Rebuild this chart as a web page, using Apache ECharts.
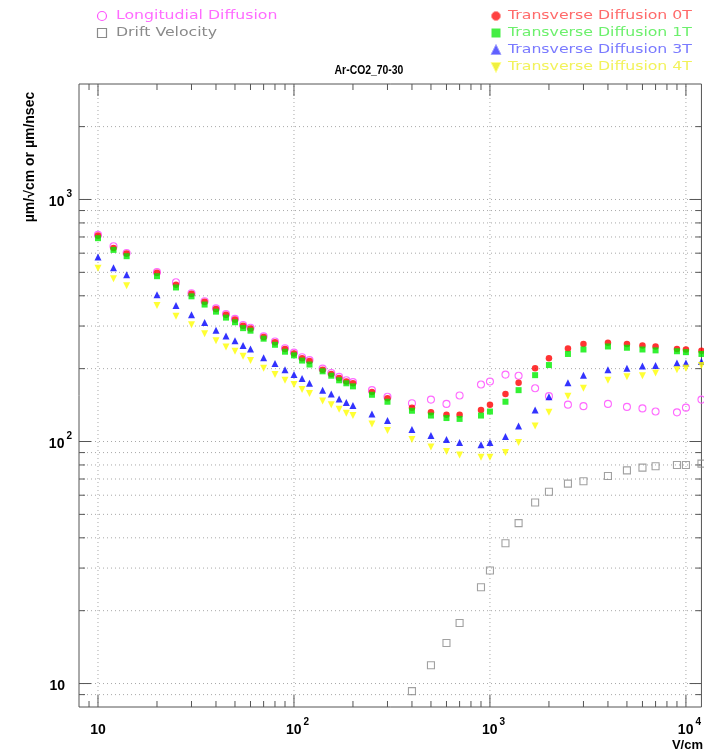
<!DOCTYPE html>
<html>
<head>
<meta charset="utf-8">
<script src="https://cdn.jsdelivr.net/npm/echarts@6/dist/echarts.min.js"></script>
<style>
  html, body { margin: 0; padding: 0; background: #ffffff; }
  #chart { width: 704px; height: 754px; }
</style>
</head>
<body>
<div id="chart"></div>
<script>
// Electric field values (V/cm) shared by the diffusion series
const fieldE = [10, 12, 14, 20, 25, 30, 35, 40, 45, 50, 55, 60, 70, 80, 90, 100, 110, 120, 140, 155, 170, 185, 200,
  250, 300, 400, 500, 600, 700, 900, 1000, 1200, 1400, 1700, 2000, 2500, 3000, 4000, 5000, 6000, 7000, 9000, 10000, 12000];

// Longitudinal diffusion (um/sqrt(cm))
const longDiff = [714, 641, 601, 501, 455, 410, 380, 355, 336, 321, 303, 295, 272, 259, 243, 233, 223, 217, 200, 192, 185, 179, 176,
  163, 153, 144, 149, 143, 155, 172, 177, 189, 187, 166, 154, 142, 140, 143, 139, 137, 133, 132, 138, 149];

// Transverse diffusion at 0, 1, 3 and 4 tesla (um/sqrt(cm))
const trans0T = [710, 631, 598, 498, 444, 408, 378, 353, 334, 319, 301, 293, 270, 257, 241, 231, 221, 215, 198, 190, 183, 177, 174,
  160, 151, 138, 132, 129, 129, 135, 142, 157, 175, 201, 221, 242, 253, 256, 253, 249, 247, 241, 240, 237];
const trans1T = [692, 619, 583, 482, 433, 398, 368, 344, 325, 311, 294, 287, 266, 251, 235, 227, 216, 208, 195, 187, 179, 174, 169,
  156, 146, 134, 128, 125, 124, 128, 133, 146, 163, 188, 207, 230, 240, 247, 244, 240, 238, 236, 234, 230];
const trans3T = [578, 522, 489, 404, 365, 334, 310, 288, 273, 261, 249, 241, 222, 210, 198, 189, 182, 174, 163, 157, 150, 145, 141,
  130, 122, 112, 106, 102, 99, 97, 99, 105, 116, 135, 153, 175, 188, 198, 201, 205, 206, 211, 211, 214];
const trans4T = [520, 470, 440, 365, 329, 304, 279, 261, 246, 236, 225, 216, 201, 189, 179, 172, 164, 158, 147, 142, 136, 131, 128,
  118, 111, 102, 95, 91, 88, 86, 86, 90, 99, 116, 132, 154, 166, 179, 185, 187, 192, 198, 201, 206];

// Drift velocity (um/nsec)
const driftE = [400, 500, 600, 700, 900, 1000, 1200, 1400, 1700, 2000, 2500, 3000, 4000, 5000, 6000, 7000, 9000, 10000, 12000];
const driftVel = [9.3, 11.9, 14.7, 17.8, 25, 29.3, 38, 46, 56, 62, 67, 68.5, 72, 76, 78, 79, 80, 80, 81];

// Axis ranges
const X_MIN = 8, X_MAX = 12000;
const Y_MIN = 8, Y_MAX = 3000;

// Grid lines and tick positions
const xGridValues = [10, 100, 1000, 10000];
const xMinorTicks = [9, 20, 30, 40, 50, 60, 70, 80, 90, 200, 300, 400, 500, 600, 700, 800, 900,
  2000, 3000, 4000, 5000, 6000, 7000, 8000, 9000];
const yMajorTicks = [10, 100, 1000];
const yMinorTicks = [9, 20, 30, 40, 50, 60, 70, 80, 90, 200, 300, 400, 500, 600, 700, 800, 900, 2000];
const yGridValues = yMajorTicks.concat(yMinorTicks);

// Decade tick labels: base "10" with exponent
const decadeExponents = { 10: '', 100: '2', 1000: '3', 10000: '4' };

const LABEL_FONT = '"Liberation Sans", Arial, sans-serif';
const LEGEND_FONT = '"DejaVu Sans", sans-serif';

const chart = echarts.init(document.getElementById('chart'), null, { renderer: 'canvas' });

function pairs(xs, ys) { return xs.map((x, i) => [x, ys[i]]); }

function decadeKey(v) {
  const l = Math.log10(v);
  const e = Math.round(l);
  if (Math.abs(l - e) > 1e-6) return null;
  return Math.pow(10, e);
}

const richLabel = {
  b: { fontFamily: LABEL_FONT, fontWeight: 'bold', fontSize: 14, color: '#000', lineHeight: 20, verticalAlign: 'bottom' },
  s: { fontFamily: LABEL_FONT, fontWeight: 'bold', fontSize: 10, color: '#000', lineHeight: 20, verticalAlign: 'top', padding: [0, 0, 0, 2] },
  p: { width: 7, lineHeight: 20 }
};

// vertical grid lines
function xGridItem(params, api) {
  const v = api.value(0);
  const b = api.coord([v, Y_MIN]);
  const t = api.coord([v, Y_MAX]);
  return { type: 'line', shape: { x1: b[0], y1: b[1], x2: t[0], y2: t[1] },
    style: { stroke: '#a8a8a8', lineWidth: 1, lineDash: [1, 3] } };
}
// horizontal grid lines
function yGridItem(params, api) {
  const v = api.value(1);
  const l = api.coord([X_MIN, v]);
  const r = api.coord([X_MAX, v]);
  return { type: 'line', shape: { x1: l[0], y1: l[1], x2: r[0], y2: r[1] },
    style: { stroke: '#a8a8a8', lineWidth: 1, lineDash: [1, 3] } };
}
// inward ticks on bottom and top edges
function xTickItem(params, api) {
  const v = api.value(0);
  const len = api.value(2);
  const b = api.coord([v, Y_MIN]);
  const t = api.coord([v, Y_MAX]);
  const st = { stroke: '#555', lineWidth: 1 };
  return { type: 'group', children: [
    { type: 'line', shape: { x1: b[0], y1: b[1], x2: b[0], y2: b[1] - len }, style: st },
    { type: 'line', shape: { x1: t[0], y1: t[1], x2: t[0], y2: t[1] + len }, style: st }
  ] };
}
// inward ticks on left and right edges
function yTickItem(params, api) {
  const v = api.value(1);
  const len = api.value(2);
  const l = api.coord([X_MIN, v]);
  const r = api.coord([X_MAX, v]);
  const st = { stroke: '#555', lineWidth: 1 };
  return { type: 'group', children: [
    { type: 'line', shape: { x1: l[0], y1: l[1], x2: l[0] + len, y2: l[1] }, style: st },
    { type: 'line', shape: { x1: r[0], y1: r[1], x2: r[0] - len, y2: r[1] }, style: st }
  ] };
}

const xTickData = xGridValues.map(v => [v, Y_MIN, 12]).concat(xMinorTicks.map(v => [v, Y_MIN, 6]));
const yTickData = yMajorTicks.map(v => [X_MIN, v, 12]).concat(yMinorTicks.map(v => [X_MIN, v, 6]));

// Legend built from graphic elements (wide legend lettering)
const legendLeft = [
  { name: 'Longitudial Diffusion', text: '#ff6bff', marker: 'emptyCircle', stroke: '#ff55ff', row: 0 },
  { name: 'Drift Velocity', text: '#8a8a8a', marker: 'emptyRect', stroke: '#8a8a8a', row: 1 }
];
const legendRight = [
  { name: 'Transverse Diffusion 0T', text: '#ff6a6a', marker: 'circle', fill: '#ff4040', row: 0 },
  { name: 'Transverse Diffusion 1T', text: '#6cf06c', marker: 'rect', fill: '#44ee44', row: 1 },
  { name: 'Transverse Diffusion 3T', text: '#7a7aff', marker: 'triangle', fill: '#6060ff', row: 2 },
  { name: 'Transverse Diffusion 4T', text: '#f2f25a', marker: 'triangleDown', fill: '#f0f040', row: 3 }
];

function legendMarker(item, cx, cy) {
  const r = 4.5;
  if (item.marker === 'emptyCircle') return { type: 'circle', shape: { cx, cy, r }, style: { fill: 'none', stroke: item.stroke, lineWidth: 1.2 } };
  if (item.marker === 'emptyRect') return { type: 'rect', shape: { x: cx - r, y: cy - r, width: 2 * r, height: 2 * r }, style: { fill: 'none', stroke: item.stroke, lineWidth: 1.2 } };
  if (item.marker === 'circle') return { type: 'circle', shape: { cx, cy, r }, style: { fill: item.fill, stroke: '#ff9a9a', lineWidth: 1 } };
  if (item.marker === 'rect') return { type: 'rect', shape: { x: cx - r, y: cy - r, width: 2 * r, height: 2 * r }, style: { fill: item.fill } };
  if (item.marker === 'triangle') return { type: 'polygon', shape: { points: [[cx, cy - r - 1], [cx + r + 0.5, cy + r], [cx - r - 0.5, cy + r]] }, style: { fill: item.fill, stroke: '#a0a0ff', lineWidth: 1 } };
  return { type: 'polygon', shape: { points: [[cx, cy + r + 1], [cx + r + 0.5, cy - r], [cx - r - 0.5, cy - r]] }, style: { fill: item.fill, stroke: '#ffff90', lineWidth: 1 } };
}

function legendGraphics(items, markerX, textX, topY) {
  const out = [];
  items.forEach(item => {
    const cy = topY + item.row * 17;
    out.push(legendMarker(item, markerX, cy));
    out.push({ type: 'text', x: textX, y: cy, scaleX: 1.21, originX: 0,
      style: { text: item.name, fill: item.text, font: '13px ' + LEGEND_FONT, textVerticalAlign: 'middle', textAlign: 'left' } });
  });
  return out;
}

const option = {
  animation: false,
  backgroundColor: '#ffffff',
  grid: { left: 79, top: 84, width: 624, height: 623, show: true, borderColor: '#555', borderWidth: 1, backgroundColor: 'transparent' },
  xAxis: {
    type: 'log', logBase: 10, min: X_MIN, max: X_MAX,
    axisLine: { show: false }, axisTick: { show: false }, splitLine: { show: false }, minorTick: { show: false },
    axisLabel: {
      show: true, margin: 10, showMinLabel: false, showMaxLabel: false, rich: richLabel,
      formatter: v => {
        const k = decadeKey(v);
        if (k === null || !(k in decadeExponents)) return '';
        const e = decadeExponents[k];
        return e ? '{p| }{b|10}{s|' + e + '}' : '{b|10}';
      }
    }
  },
  yAxis: {
    type: 'log', logBase: 10, min: Y_MIN, max: Y_MAX,
    axisLine: { show: false }, axisTick: { show: false }, splitLine: { show: false }, minorTick: { show: false },
    axisLabel: {
      show: true, margin: 7, showMinLabel: false, showMaxLabel: false, rich: richLabel,
      formatter: v => {
        const k = decadeKey(v);
        if (k === null || !(k in decadeExponents)) return '';
        const e = decadeExponents[k];
        return e ? '{b|10}{s|' + e + '}' : '{b|10}{p| }';
      }
    }
  },
  graphic: [
    { type: 'text', x: 369, y: 70, scaleX: 0.8, style: { text: 'Ar-CO2_70-30', font: 'bold 13px ' + LABEL_FONT, fill: '#000', textAlign: 'center', textVerticalAlign: 'middle' } },
    { type: 'text', x: 30, y: 157, rotation: Math.PI / 2, style: { text: 'µm/√cm or µm/nsec', font: 'bold 14px ' + LABEL_FONT, fill: '#000', textAlign: 'center', textVerticalAlign: 'middle' } },
    { type: 'text', x: 703, y: 745, style: { text: 'V/cm', font: 'bold 13px ' + LABEL_FONT, fill: '#000', textAlign: 'right', textVerticalAlign: 'middle' } }
  ].concat(legendGraphics(legendLeft, 102, 116, 16)).concat(legendGraphics(legendRight, 496, 508, 16)),
  series: [
    { type: 'custom', name: 'xgrid', data: xGridValues.map(v => [v, Y_MIN]), renderItem: xGridItem, z: 1, silent: true, clip: false },
    { type: 'custom', name: 'ygrid', data: yGridValues.map(v => [X_MIN, v]), renderItem: yGridItem, z: 1, silent: true, clip: false },
    { type: 'custom', name: 'xticks', data: xTickData, renderItem: xTickItem, z: 2, silent: true, clip: false },
    { type: 'custom', name: 'yticks', data: yTickData, renderItem: yTickItem, z: 2, silent: true, clip: false },
    { type: 'scatter', name: 'Longitudial Diffusion', data: pairs(fieldE, longDiff), symbol: 'circle', symbolSize: 7,
      itemStyle: { color: 'rgba(0,0,0,0)', borderColor: '#ff44ff', borderWidth: 1.1 }, z: 3, clip: true },
    { type: 'scatter', name: 'Drift Velocity', data: pairs(driftE, driftVel), symbol: 'rect', symbolSize: 7,
      itemStyle: { color: 'rgba(0,0,0,0)', borderColor: '#8a8a8a', borderWidth: 1.1 }, z: 3, clip: true },
    { type: 'scatter', name: 'Transverse Diffusion 0T', data: pairs(fieldE, trans0T), symbol: 'circle', symbolSize: 6.5,
      itemStyle: { color: '#ff0000' }, z: 3, clip: true },
    { type: 'scatter', name: 'Transverse Diffusion 1T', data: pairs(fieldE, trans1T), symbol: 'rect', symbolSize: 6,
      itemStyle: { color: '#00ee00' }, z: 3, clip: true },
    { type: 'scatter', name: 'Transverse Diffusion 3T', data: pairs(fieldE, trans3T), symbol: 'triangle', symbolSize: 7,
      itemStyle: { color: '#0000ff' }, z: 3, clip: true },
    { type: 'scatter', name: 'Transverse Diffusion 4T', data: pairs(fieldE, trans4T), symbol: 'triangle', symbolRotate: 180, symbolSize: 7,
      itemStyle: { color: '#ffff00' }, z: 3, clip: true }
  ]
};

chart.setOption(option);
</script>
</body>
</html>
